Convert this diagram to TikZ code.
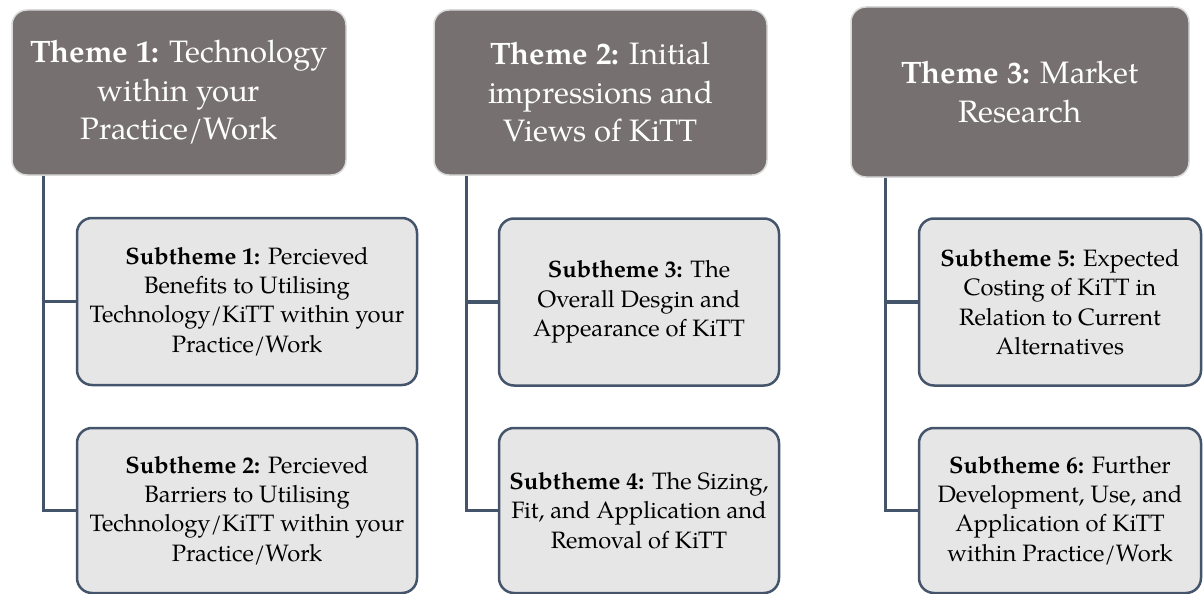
\documentclass[tikz,border=0pt]{standalone}
\usepackage{fontspec}
\setmainfont{texgyrepagella}[Extension=.otf, UprightFont=*-regular, BoldFont=*-bold, ItalicFont=*-italic, BoldItalicFont=*-bolditalic]
\usepackage{tikz}
\usetikzlibrary{calc}

\definecolor{themegray}{HTML}{767170}
\definecolor{subgray}{HTML}{E7E6E6}
\definecolor{slate}{HTML}{44546A}
\definecolor{edgegray}{HTML}{D9D9D9}

\begin{document}
\begin{tikzpicture}[
            x=1pt, y=-1pt,
            theme/.style={draw=edgegray, line width=1.5pt, fill=themegray, rounded corners=15pt,
              text=white, align=center, inner sep=0pt, font=\fontsize{31}{38.5}\selectfont},
            subtheme/.style={draw=slate, line width=2.5pt, fill=subgray, rounded corners=15pt,
              text=black, align=center, inner sep=0pt, font=\fontsize{23.7}{29.3}\selectfont},
            link/.style={draw=slate, line width=3.5pt}
        ]
            % Marco de la figura
            \useasboundingbox (0,0) rectangle (1203,594);

            % Temas principales
            \node[theme, minimum width=334pt, minimum height=165pt] (t1) at (179,92.5)
              {\textbf{Theme 1:} Technology\\within your\\Practice/Work};
            \node[theme, minimum width=333pt, minimum height=165pt] (t2) at (600.5,92.5)
              {\textbf{Theme 2:} Initial\\impressions and\\Views of KiTT};
            \node[theme, minimum width=338pt, minimum height=170pt] (t3) at (1020,92)
              {\textbf{Theme 3:} Market\\Research};

            % Subtemas
            \node[subtheme, minimum width=340pt, minimum height=167pt] (s1) at (247,301.5)
              {\textbf{Subtheme 1:} Percieved\\Benefits to Utilising\\Technology/KiTT within your\\Practice/Work};
            \node[subtheme, minimum width=340pt, minimum height=165pt] (s2) at (247,510.5)
              {\textbf{Subtheme 2:} Percieved\\Barriers to Utilising\\Technology/KiTT within your\\Practice/Work};
            \node[subtheme, minimum width=280pt, minimum height=167pt] (s3) at (639,302)
              {\textbf{Subtheme 3:} The\\Overall Desgin and\\Appearance of KiTT};
            \node[subtheme, minimum width=280pt, minimum height=165pt] (s4) at (639,510.5)
              {\textbf{Subtheme 4:} The Sizing,\\Fit, and Application and\\Removal of KiTT};
            \node[subtheme, minimum width=282pt, minimum height=167pt] (s5) at (1060,302)
              {\textbf{Subtheme 5:} Expected\\Costing of KiTT in\\Relation to Current\\Alternatives};
            \node[subtheme, minimum width=282pt, minimum height=165pt] (s6) at (1060,510.5)
              {\textbf{Subtheme 6:} Further\\Development, Use, and\\Application of KiTT\\within Practice/Work};

            % Conectores
            \coordinate (r1) at ($(t1.south west)+(32pt,0)$);
            \coordinate (r2) at ($(t2.south west)+(33pt,0)$);
            \coordinate (r3) at ($(t3.south west)+(35pt,0)$);
            \draw[link] (r1) |- (s1.west);
            \draw[link] (r1) |- (s2.west);
            \draw[link] (r2) |- (s3.west);
            \draw[link] (r2) |- (s4.west);
            \draw[link] (r3) |- (s5.west);
            \draw[link] (r3) |- (s6.west);

        \end{tikzpicture}
\end{document}
